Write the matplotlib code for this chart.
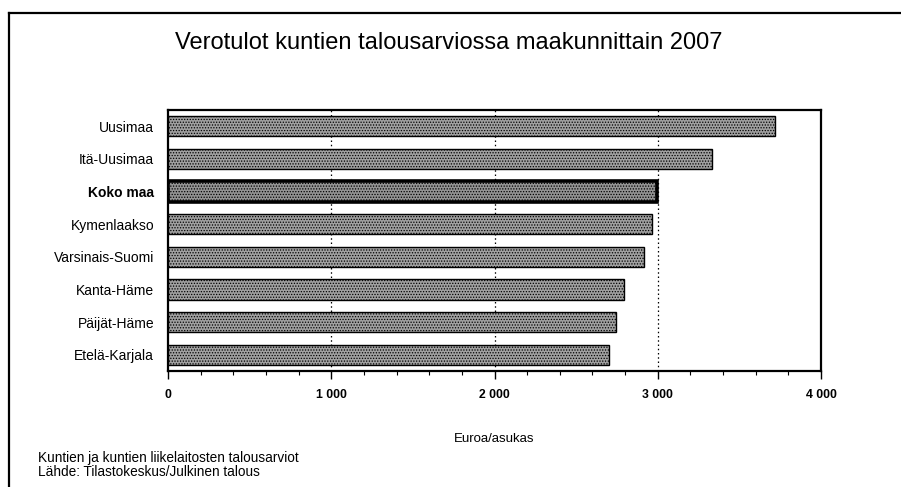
import matplotlib
matplotlib.use("Agg")
import matplotlib.pyplot as plt
from matplotlib.lines import Line2D
from matplotlib.ticker import FixedLocator, MultipleLocator

plt.rcParams['font.family'] = ['Liberation Sans', 'DejaVu Sans']
plt.rcParams['hatch.linewidth'] = 0.6

regions = ["Uusimaa", "Itä-Uusimaa", "Koko maa", "Kymenlaakso",
           "Varsinais-Suomi", "Kanta-Häme", "Päijät-Häme", "Etelä-Karjala"]
values = [3718, 3332, 2995, 2965, 2916, 2793, 2744, 2701]
highlight = "Koko maa"
x_ticks = [0, 1000, 2000, 3000, 4000]
x_tick_labels = ["0", "1 000", "2 000", "3 000", "4 000"]

fig = plt.figure(figsize=(9.01, 4.87), dpi=100)
ax = fig.add_axes([168 / 901, 1 - 371 / 487, 653 / 901, 261 / 487])

ypos = list(range(len(regions)))
for y, name, v in zip(ypos, regions, values):
    is_total = name == highlight
    ax.barh(y, v, height=0.62,
            color='#a0a0a0' if not is_total else '#939393',
            edgecolor='black', linewidth=2.6 if is_total else 1.0,
            hatch='......', zorder=3)

ax.set_xlim(0, 4000)
ax.set_ylim(len(regions) - 0.5, -0.5)
ax.set_yticks(ypos)
ax.set_yticklabels(regions, fontsize=10)
for lbl in ax.get_yticklabels():
    if lbl.get_text() == highlight:
        lbl.set_fontweight('bold')
ax.tick_params(axis='y', length=0, pad=10)

ax.xaxis.set_major_locator(FixedLocator(x_ticks))
ax.set_xticklabels(x_tick_labels, fontsize=8.8, fontweight='bold')
ax.xaxis.set_minor_locator(MultipleLocator(200))
ax.tick_params(axis='x', which='major', length=6, width=1.0, direction='out', pad=7)
ax.tick_params(axis='x', which='minor', length=3, width=0.8, direction='out')

for gx in x_ticks[1:-1]:
    ax.axvline(gx, color='black', linestyle=(0, (1.2, 2.2)), linewidth=0.9, zorder=1)

for side in ax.spines.values():
    side.set_linewidth(1.6)

ax.set_xlabel("Euroa/asukas", fontsize=9.5, labelpad=23)

fig.text(449 / 901, 1 - 43 / 487, "Verotulot kuntien talousarviossa maakunnittain 2007",
         ha='center', va='center', fontsize=17)

fig.text(38 / 901, 1 - 458 / 487, "Kuntien ja kuntien liikelaitosten talousarviot",
         ha='left', va='center', fontsize=9.8)
fig.text(38 / 901, 1 - 472 / 487, "Lähde: Tilastokeskus/Julkinen talous",
         ha='left', va='center', fontsize=9.8)

# outer frame: top and left edges
fig.add_artist(Line2D([9 / 901, 1.0], [1 - 13 / 487, 1 - 13 / 487],
                      transform=fig.transFigure, color='black', linewidth=1.6))
fig.add_artist(Line2D([9 / 901, 9 / 901], [0.0, 1 - 13 / 487],
                      transform=fig.transFigure, color='black', linewidth=1.6))

fig.savefig("out.png", dpi=100)
